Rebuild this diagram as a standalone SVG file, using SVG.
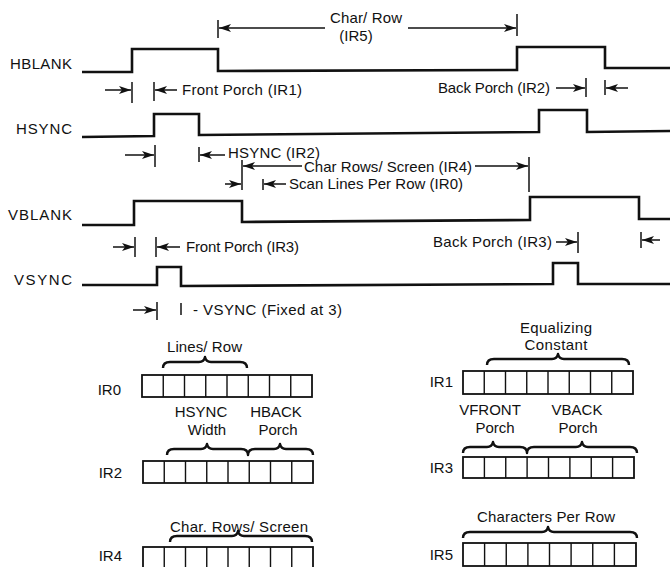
<svg xmlns="http://www.w3.org/2000/svg" width="670" height="567" viewBox="0 0 670 567">
<style>
text{font-family:"Liberation Sans","Helvetica",Arial,sans-serif;font-size:15px;fill:#111}
.sig{fill:none;stroke:#111;stroke-width:2.6;stroke-linejoin:miter}
.ar{fill:none;stroke:#111;stroke-width:1.5;marker-end:url(#ah)}
.tk{fill:none;stroke:#111;stroke-width:1.5}
.box{fill:#fff;stroke:#111;stroke-width:1.8}
.cell{stroke:#111;stroke-width:1.4}
.br{fill:none;stroke:#111;stroke-width:2.4;stroke-linejoin:round}
.lbl{text-anchor:end}
.mid{text-anchor:middle}
</style>
<defs>
<marker id="ah" viewBox="0 0 12 8" refX="12" refY="4" markerWidth="12" markerHeight="8" markerUnits="userSpaceOnUse" orient="auto">
<path d="M0,0 L12,4 L0,8 L3,4 z" fill="#111"/>
</marker>
</defs>

<g id="hblank">
<text class="lbl" x="72" y="69" textLength="62">HBLANK</text>
<path class="sig" d="M82,72 L132,72 L132,49 L218,49 L218,71 L517,70 L517,47 L605,47 L605,68 L670,68"/>
</g>
<g id="hsync">
<text class="lbl" x="72" y="134" textLength="56">HSYNC</text>
<path class="sig" d="M82,137 L154,136 L154,114 L199,114 L199,135 L539,132 L539,110 L587,110 L587,132 L670,131"/>
</g>
<g id="vblank">
<text class="lbl" x="72" y="220" textLength="64">VBLANK</text>
<path class="sig" d="M82,225 L134,225 L134,201 L242,201 L242,222 L530,220 L530,197 L639,197 L639,219 L670,219"/>
</g>
<g id="vsync">
<text class="lbl" x="72" y="285" textLength="58">VSYNC</text>
<path class="sig" d="M82,285 L157,285 L157,267 L181,267 L181,286 L553,284 L553,263 L578,263 L578,284 L670,284"/>
</g>

<g id="labels">
<text x="330" y="23" textLength="72">Char/ Row</text>
<text class="mid" x="356" y="41">(IR5)</text>
<text x="182" y="95" textLength="120">Front Porch (IR1)</text>
<text x="438" y="93" textLength="112">Back Porch (IR2)</text>
<text x="228" y="158" textLength="92">HSYNC (IR2)</text>
<text x="304" y="172" textLength="168">Char Rows/ Screen (IR4)</text>
<text x="289" y="189" textLength="174">Scan Lines Per Row (IR0)</text>
<text x="186" y="252" textLength="113">Front Porch (IR3)</text>
<text x="433" y="247" textLength="119">Back Porch (IR3)</text>
<text x="193" y="315" textLength="149">- VSYNC (Fixed at 3)</text>
</g>

<g id="connectors">
<line class="tk" x1="218" y1="20" x2="218" y2="38"/>
<line class="ar" x1="325" y1="28" x2="219" y2="28"/>
<line class="ar" x1="408" y1="28" x2="516" y2="28"/>
<line class="tk" x1="517" y1="14" x2="517" y2="36"/>

<line class="ar" x1="105" y1="90" x2="131" y2="90"/>
<line class="tk" x1="132" y1="82" x2="132" y2="103"/>
<line class="tk" x1="154" y1="82" x2="154" y2="101"/>
<line class="ar" x1="177" y1="90" x2="155" y2="90"/>

<line class="ar" x1="556" y1="88" x2="585" y2="88"/>
<line class="tk" x1="586" y1="78" x2="586" y2="97"/>
<line class="tk" x1="605" y1="80" x2="605" y2="95"/>
<line class="ar" x1="628" y1="88" x2="606" y2="88"/>

<line class="ar" x1="125" y1="155" x2="154" y2="155"/>
<line class="tk" x1="155" y1="145" x2="155" y2="167"/>
<line class="tk" x1="199" y1="147" x2="199" y2="162"/>
<line class="ar" x1="225" y1="155" x2="200" y2="155"/>

<line class="tk" x1="242" y1="160" x2="242" y2="190"/>
<line class="ar" x1="302" y1="166" x2="243" y2="166"/>
<line class="ar" x1="475" y1="166" x2="528" y2="166"/>
<line class="tk" x1="529" y1="157" x2="529" y2="192"/>

<line class="ar" x1="225" y1="184" x2="241" y2="184"/>
<line class="tk" x1="263" y1="179" x2="263" y2="190"/>
<line class="ar" x1="286" y1="184" x2="264" y2="184"/>

<line class="ar" x1="113" y1="247" x2="134" y2="247"/>
<line class="tk" x1="135" y1="237" x2="135" y2="257"/>
<line class="tk" x1="156" y1="237" x2="156" y2="257"/>
<line class="ar" x1="180" y1="247" x2="157" y2="247"/>

<line class="ar" x1="556" y1="242" x2="577" y2="242"/>
<line class="tk" x1="578" y1="232" x2="578" y2="253"/>
<line class="tk" x1="641" y1="232" x2="641" y2="248"/>
<line class="ar" x1="660" y1="240" x2="642" y2="240"/>

<line class="ar" x1="133" y1="310" x2="156" y2="310"/>
<line class="tk" x1="157" y1="302" x2="157" y2="320"/>
<line class="tk" x1="181" y1="303" x2="181" y2="315"/>
</g>

<g id="ir0">
<text class="lbl" x="121" y="395">IR0</text>
<text x="167" y="352" textLength="75">Lines/ Row</text>
<path class="br" d="M163,368 Q163,362 170,362 L199,362 Q204,362 205,357 Q206,362 211,362 L240,362 Q247,362 247,368"/>
<rect class="box" x="142" y="375" width="170" height="22"/>
<path class="cell" d="M163.25,375V397M184.5,375V397M205.75,375V397M227,375V397M248.25,375V397M269.5,375V397M290.75,375V397"/>
</g>

<g id="ir2">
<text class="lbl" x="122" y="478">IR2</text>
<text class="mid" x="201" y="417">HSYNC</text>
<text class="mid" x="207" y="435">Width</text>
<text class="mid" x="276" y="417">HBACK</text>
<text class="mid" x="278" y="435">Porch</text>
<path class="br" d="M167,455 Q167,449 174,449 L201,449 Q206,449 207,444 Q208,449 213,449 L241,449 Q248,449 248,455 Q248,449 255,449 L274,449 Q279,449 280,444 Q281,449 286,449 L306,449 Q313,449 313,455"/>
<rect class="box" x="143" y="461" width="170" height="22"/>
<path class="cell" d="M164.25,461V483M185.5,461V483M206.75,461V483M228,461V483M249.25,461V483M270.5,461V483M291.75,461V483"/>
</g>

<g id="ir4">
<text class="lbl" x="122" y="561">IR4</text>
<text x="170" y="532" textLength="138">Char. Rows/ Screen</text>
<path class="br" d="M170,542 Q170,536 177,536 L232,536 Q237,536 238,531 Q239,536 244,536 L305,536 Q312,536 312,542"/>
<rect class="box" x="143" y="547" width="170" height="24"/>
<path class="cell" d="M164.25,547V571M185.5,547V571M206.75,547V571M228,547V571M249.25,547V571M270.5,547V571M291.75,547V571"/>
</g>

<g id="ir1">
<text class="lbl" x="453" y="387">IR1</text>
<text class="mid" x="556" y="333" textLength="72">Equalizing</text>
<text class="mid" x="556" y="350" textLength="63">Constant</text>
<path class="br" d="M487,365 Q487,359 494,359 L552,359 Q557,359 558,354 Q559,359 564,359 L622,359 Q629,359 629,365"/>
<rect class="box" x="463" y="371" width="170" height="23"/>
<path class="cell" d="M484.25,371V394M505.5,371V394M526.75,371V394M548,371V394M569.25,371V394M590.5,371V394M611.75,371V394"/>
</g>

<g id="ir3">
<text class="lbl" x="453" y="473">IR3</text>
<text class="mid" x="490" y="415">VFRONT</text>
<text class="mid" x="495" y="433">Porch</text>
<text class="mid" x="577" y="415">VBACK</text>
<text class="mid" x="578" y="433">Porch</text>
<path class="br" d="M463,453 Q463,447 470,447 L487,447 Q492,447 493,442 Q494,447 499,447 L520,447 Q527,447 527,453 Q527,447 534,447 L576,447 Q581,447 582,442 Q583,447 588,447 L630,447 Q637,447 637,453"/>
<rect class="box" x="463" y="457" width="171" height="21"/>
<path class="cell" d="M484.4,457V478M505.75,457V478M527.1,457V478M548.5,457V478M569.9,457V478M591.25,457V478M612.6,457V478"/>
</g>

<g id="ir5">
<text class="lbl" x="453" y="560">IR5</text>
<text x="477" y="522" textLength="138">Characters Per Row</text>
<path class="br" d="M463,538 Q463,532 470,532 L542,532 Q547,532 548,527 Q549,532 554,532 L630,532 Q637,532 637,538"/>
<rect class="box" x="463" y="543" width="173" height="23"/>
<path class="cell" d="M484.6,543V566M506.25,543V566M527.9,543V566M549.5,543V566M571.1,543V566M592.75,543V566M614.4,543V566"/>
</g>
</svg>
